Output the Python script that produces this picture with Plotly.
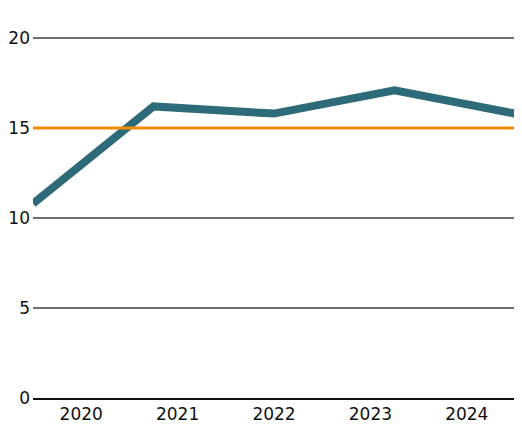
import plotly.graph_objects as go

years = ["2020", "2021", "2022", "2023", "2024"]
values = [10.8, 16.2, 15.8, 17.1, 15.8]
target = 15

teal = "#2E6B78"
orange = "#F28C00"
font = "DejaVu Sans"

fig = go.Figure()

# invisible trace so the category axis shows the year labels
fig.add_trace(go.Scatter(x=years, y=[None] * len(years), mode="lines",
                         showlegend=False, hoverinfo="skip"))

# the line itself runs edge to edge, on its own hidden axis
fig.add_trace(go.Scatter(x=list(range(len(values))), y=values, xaxis="x2",
                         mode="lines", line=dict(color=teal, width=8),
                         showlegend=False))

fig.add_shape(type="line", xref="x domain", yref="y", x0=0, x1=1, y0=target, y1=target,
              line=dict(color=orange, width=3))

# page body has an 8px margin, so the figure is 8px smaller than the window
fig.update_layout(
    width=514, height=416,
    margin=dict(l=25, r=7, t=21, b=26),
    plot_bgcolor="white", paper_bgcolor="white",
    font=dict(family=font, size=17, color="#111"),
    xaxis=dict(type="category", range=[-0.5, len(years) - 0.5], showgrid=False,
               showline=True, linecolor="#111", linewidth=2, ticks="",
               zeroline=False, ticklabelstandoff=0, automargin=False),
    xaxis2=dict(range=[0, len(values) - 1], overlaying="x", visible=False),
    yaxis=dict(range=[0, 20.5], tickvals=[0, 5, 10, 15, 20], showgrid=True,
               gridcolor="#6e6e6e", gridwidth=1.5, zeroline=False, ticks="",
               ticklabelstandoff=2, automargin=False),
)

fig.write_html("out.html")
